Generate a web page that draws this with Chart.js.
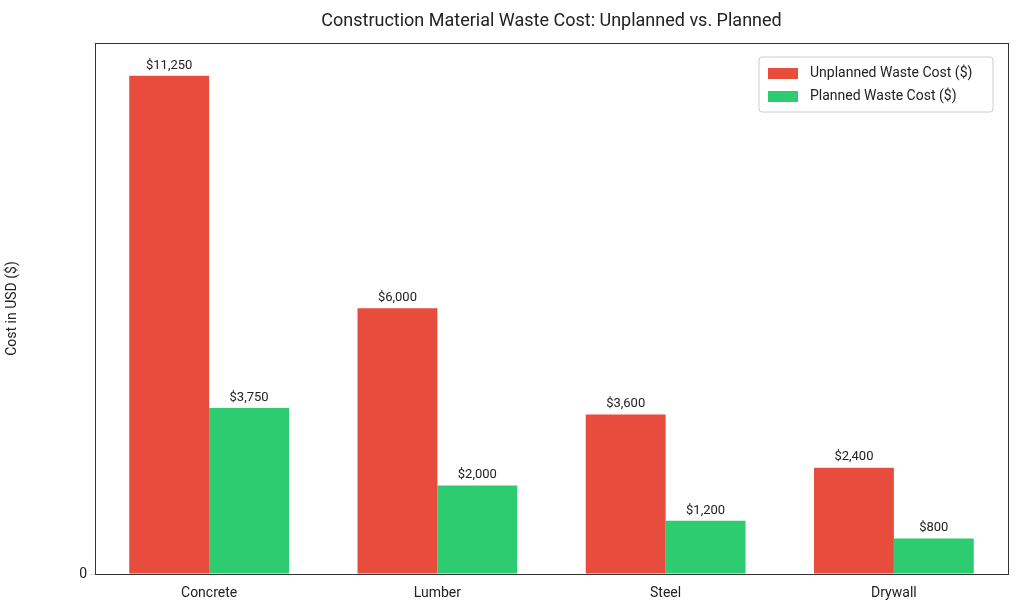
<!DOCTYPE html>
<html>
<head>
<meta charset="utf-8">
<script src="https://cdn.jsdelivr.net/npm/chart.js@4"></script>
<style>
  html, body { margin: 0; padding: 0; background: #fff; }
  #wrap { width: 1024px; height: 614px; }
</style>
</head>
<body>
<div id="wrap"><canvas id="wasteChart"></canvas></div>
<script>
const materials = ["Concrete", "Lumber", "Steel", "Drywall"];
const unplannedCost = [11250, 6000, 3600, 2400];
const plannedCost = [3750, 2000, 1200, 800];
const seriesNames = ["Unplanned Waste Cost ($)", "Planned Waste Cost ($)"];
const seriesColors = ["#e74c3c", "#2ecc71"];

const FONT = "Roboto, 'DejaVu Sans', sans-serif";

// title, frame, value labels and legend box
const decorPlugin = {
    id: "decor",
    afterDatasetsDraw(chart) {
        const ctx = chart.ctx;
        const a = chart.chartArea;
        ctx.save();
        // frame
        ctx.strokeStyle = "#333";
        ctx.lineWidth = 1;
        ctx.strokeRect(a.left + 0.5, a.top + 0.5, a.right - a.left, a.bottom - a.top);

        // title
        ctx.fillStyle = "#222";
        ctx.font = "18px " + FONT;
        ctx.textAlign = "center";
        ctx.textBaseline = "middle";
        ctx.fillText("Construction Material Waste Cost: Unplanned vs. Planned", (a.left + a.right) / 2, 21);

        // value labels
        ctx.font = "13px " + FONT;
        ctx.textBaseline = "bottom";
        chart.data.datasets.forEach((ds, i) => {
            chart.getDatasetMeta(i).data.forEach((bar, j) => {
                ctx.fillText("$" + ds.data[j].toLocaleString("en-US"), bar.x, bar.y - 4);
            });
        });

        // legend
        const bx = 759, by = 57, bw = 234, bh = 55;
        ctx.fillStyle = "rgba(255,255,255,0.9)";
        ctx.strokeStyle = "#ccc";
        ctx.beginPath();
        ctx.roundRect(bx, by, bw, bh, 3);
        ctx.fill();
        ctx.stroke();
        ctx.font = "14px " + FONT;
        ctx.textAlign = "left";
        ctx.textBaseline = "middle";
        seriesNames.forEach((name, i) => {
            const y = by + 16 + i * 23;
            ctx.fillStyle = seriesColors[i];
            ctx.fillRect(bx + 9, y - 5, 30, 11);
            ctx.fillStyle = "#222";
            ctx.fillText(name, bx + 51, y);
        });
        ctx.restore();
    }
};

new Chart(document.getElementById("wasteChart"), {
    type: "bar",
    data: {
        labels: materials,
        datasets: [
            { label: seriesNames[0], data: unplannedCost, backgroundColor: seriesColors[0] },
            { label: seriesNames[1], data: plannedCost, backgroundColor: seriesColors[1] }
        ]
    },
    options: {
        responsive: true,
        maintainAspectRatio: false,
        animation: false,
        layout: { padding: { top: 43, right: 16 } },
        datasets: { bar: { categoryPercentage: 0.7, barPercentage: 1.0 } },
        plugins: { legend: { display: false }, tooltip: { enabled: false } },
        scales: {
            x: {
                grid: { display: false },
                border: { display: false },
                ticks: { color: "#222", font: { family: FONT, size: 14 } },
                afterFit(scale) { scale.height = 40; }
            },
            y: {
                min: 0,
                max: 11990,
                grid: { color: "#dddddd", tickLength: 5 },
                border: { display: false, dash: [5, 4] },
                ticks: {
                    stepSize: 2000,
                    color: "#222",
                    font: { family: FONT, size: 14 },
                    callback: v => v % 2000 === 0 ? v : null
                },
                title: { display: true, text: "Cost in USD ($)", color: "#222", font: { family: FONT, size: 14 } },
                afterFit(scale) { scale.width = 95; }
            }
        }
    },
    plugins: [decorPlugin]
});
</script>
</body>
</html>
